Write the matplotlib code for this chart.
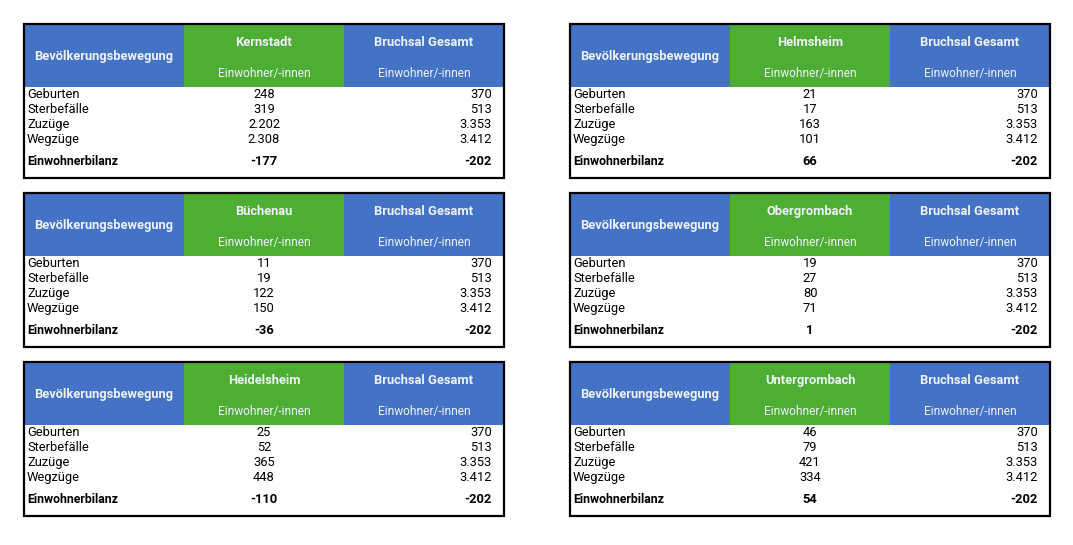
import matplotlib
matplotlib.use("Agg")
import matplotlib.pyplot as plt
from matplotlib.patches import Rectangle

plt.rcParams['font.family'] = ['Roboto', 'DejaVu Sans']

districts = ["Kernstadt", "Helmsheim", "Büchenau", "Obergrombach", "Heidelsheim", "Untergrombach"]
row_labels = ["Geburten", "Sterbefälle", "Zuzüge", "Wegzüge"]
district_values = [
    ["248", "319", "2.202", "2.308"],
    ["21", "17", "163", "101"],
    ["11", "19", "122", "150"],
    ["19", "27", "80", "71"],
    ["25", "52", "365", "448"],
    ["46", "79", "421", "334"],
]
district_balance = ["-177", "66", "-36", "1", "-110", "54"]
total_label = "Bruchsal Gesamt"
total_values = ["370", "513", "3.353", "3.412"]
total_balance = "-202"
header_left = "Bevölkerungsbewegung"
unit_label = "Einwohner/-innen"
balance_label = "Einwohnerbilanz"

BLUE = "#4472C4"
GREEN = "#4EAD33"
HEAD_TXT = "#EEF3FA"

W, H = 1073, 545
fig = plt.figure(figsize=(W / 100, H / 100), dpi=100)
ax = fig.add_axes([0, 0, 1, 1])
ax.set_xlim(0, W)
ax.set_ylim(H, 0)
ax.axis("off")

lefts = [24, 570]
tops = [24, 193, 362]
tw, th = 480, 154
c1, c2 = 160, 320  # column boundaries relative to left
hh = 63  # header height
fs = 9.3

for i, name in enumerate(districts):
    x0 = lefts[i % 2]
    y0 = tops[i // 2]
    # header backgrounds
    ax.add_patch(Rectangle((x0, y0), c1, hh, facecolor=BLUE, edgecolor="none"))
    ax.add_patch(Rectangle((x0 + c1, y0), c2 - c1, hh, facecolor=GREEN, edgecolor="none"))
    ax.add_patch(Rectangle((x0 + c2, y0), tw - c2, hh, facecolor=BLUE, edgecolor="none"))
    # border
    ax.add_patch(Rectangle((x0, y0), tw, th, facecolor="none", edgecolor="black", linewidth=1.6))
    # header text
    ax.text(x0 + c1 / 2, y0 + 36, header_left, color=HEAD_TXT, fontsize=fs, fontweight="bold",
            ha="center", va="baseline")
    ax.text(x0 + (c1 + c2) / 2, y0 + 22, name, color=HEAD_TXT, fontsize=fs, fontweight="bold",
            ha="center", va="baseline")
    ax.text(x0 + (c2 + tw) / 2, y0 + 22, total_label, color=HEAD_TXT, fontsize=fs, fontweight="bold",
            ha="center", va="baseline")
    ax.text(x0 + (c1 + c2) / 2, y0 + 53, unit_label, color=HEAD_TXT, fontsize=fs - 0.7,
            ha="center", va="baseline")
    ax.text(x0 + (c2 + tw) / 2, y0 + 53, unit_label, color=HEAD_TXT, fontsize=fs - 0.7,
            ha="center", va="baseline")
    # rows
    for r, lab in enumerate(row_labels):
        y = y0 + 74 + r * 15
        ax.text(x0 + 3, y, lab, fontsize=fs, ha="left", va="baseline", color="black")
        ax.text(x0 + (c1 + c2) / 2, y, district_values[i][r], fontsize=fs, ha="center", va="baseline", color="black")
        ax.text(x0 + tw - 12, y, total_values[r], fontsize=fs, ha="right", va="baseline", color="black")
    y = y0 + 141
    ax.text(x0 + 3, y, balance_label, fontsize=fs - 0.4, fontweight="bold", ha="left", va="baseline", color="black")
    ax.text(x0 + (c1 + c2) / 2, y, district_balance[i], fontsize=fs, fontweight="bold", ha="center", va="baseline", color="black")
    ax.text(x0 + tw - 12, y, total_balance, fontsize=fs, fontweight="bold", ha="right", va="baseline", color="black")

fig.savefig("out.png", dpi=100, facecolor="white")
